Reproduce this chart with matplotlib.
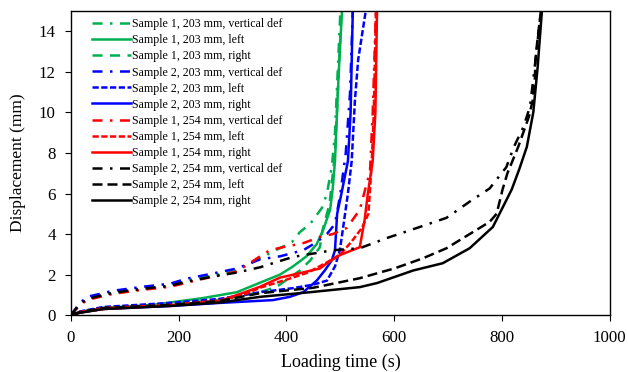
import matplotlib
matplotlib.use("Agg")
import matplotlib.pyplot as plt

plt.rcParams['font.family'] = ['Liberation Serif', 'DejaVu Serif']

# Sample 1, 203 mm
s1_203_vd_t = [0, 15, 30, 78, 134, 184, 215, 263, 308, 351, 369, 410, 425, 444, 466, 475, 484, 490, 495, 500]
s1_203_vd_d = [0, 0.5, 0.8, 1.1, 1.3, 1.45, 1.7, 1.95, 2.2, 2.8, 3.05, 3.6, 4.1, 4.5, 5.3, 6.0, 7.3, 9.0, 12.0, 15.0]
s1_203_l_t = [0, 17, 60, 150, 245, 308, 351, 388, 412, 437, 456, 468, 481, 486, 490, 493, 497, 503]
s1_203_l_d = [0, 0.15, 0.35, 0.5, 0.84, 1.13, 1.6, 2.0, 2.4, 2.9, 3.5, 4.2, 5.2, 6.3, 7.6, 9.5, 12.0, 15.0]
s1_203_r_t = [0, 17, 60, 184, 276, 351, 382, 425, 444, 462, 467, 480, 490, 497, 502]
s1_203_r_d = [0, 0.15, 0.35, 0.55, 0.75, 1.13, 1.4, 2.2, 2.7, 3.35, 4.2, 5.5, 8.0, 12.0, 15.0]

# Sample 2, 203 mm
s2_203_vd_t = [0, 15, 30, 78, 134, 184, 215, 263, 308, 351, 388, 431, 456, 475, 490, 500, 510, 518, 523]
s2_203_vd_d = [0, 0.55, 0.9, 1.2, 1.4, 1.55, 1.8, 2.05, 2.3, 2.75, 2.9, 3.2, 3.6, 4.0, 4.5, 6.0, 8.0, 11.0, 15.0]
s2_203_l_t = [0, 17, 60, 184, 276, 351, 412, 449, 475, 490, 499, 505, 514, 521, 527, 533, 547]
s2_203_l_d = [0, 0.18, 0.4, 0.6, 0.8, 1.13, 1.33, 1.5, 1.7, 2.4, 3.2, 4.3, 6.0, 7.6, 10.6, 12.6, 15.0]
s2_203_r_t = [0, 17, 60, 184, 276, 375, 406, 431, 456, 471, 484, 490, 494, 502, 514, 519, 523]
s2_203_r_d = [0, 0.12, 0.3, 0.45, 0.6, 0.74, 0.9, 1.13, 1.7, 2.2, 2.7, 3.2, 5.0, 6.0, 7.6, 10.0, 15.0]

# Sample 1, 254 mm
s1_254_vd_t = [0, 15, 30, 78, 134, 184, 215, 263, 308, 351, 369, 393, 431, 462, 486, 512, 536, 555, 560, 566]
s1_254_vd_d = [0, 0.45, 0.75, 1.05, 1.25, 1.4, 1.6, 1.9, 2.15, 2.9, 3.2, 3.35, 3.55, 3.85, 4.0, 4.3, 5.2, 7.1, 10.0, 15.0]
s1_254_l_t = [0, 17, 60, 184, 276, 320, 351, 400, 440, 475, 500, 520, 540, 552, 556, 559, 562, 566]
s1_254_l_d = [0, 0.15, 0.35, 0.5, 0.72, 1.0, 1.35, 1.75, 2.1, 2.6, 3.0, 3.6, 4.3, 5.0, 6.6, 8.0, 10.0, 15.0]
s1_254_r_t = [0, 17, 60, 184, 276, 320, 351, 388, 425, 462, 475, 499, 536, 545, 551, 560, 565, 568]
s1_254_r_d = [0, 0.13, 0.3, 0.48, 0.7, 1.1, 1.4, 1.85, 2.07, 2.3, 2.56, 2.96, 3.35, 4.7, 6.0, 7.6, 10.0, 15.0]

# Sample 2, 254 mm
s2_254_vd_t = [0, 15, 30, 78, 134, 184, 215, 263, 308, 351, 412, 486, 536, 586, 642, 697, 740, 777, 808, 822, 840, 852, 864, 872]
s2_254_vd_d = [0, 0.5, 0.8, 1.1, 1.3, 1.45, 1.65, 1.9, 2.1, 2.36, 2.87, 3.2, 3.3, 3.8, 4.3, 4.8, 5.6, 6.25, 7.3, 8.3, 9.3, 10.3, 13.0, 15.0]
s2_254_l_t = [0, 17, 60, 184, 276, 351, 450, 536, 573, 600, 653, 697, 740, 777, 790, 801, 810, 830, 850, 857, 861, 862, 865, 872]
s2_254_l_d = [0, 0.15, 0.35, 0.5, 0.7, 1.08, 1.35, 1.82, 2.1, 2.3, 2.8, 3.3, 4.0, 4.6, 5.0, 6.2, 7.0, 8.3, 9.8, 10.6, 11.7, 12.6, 13.4, 15.0]
s2_254_r_t = [0, 17, 60, 184, 276, 351, 444, 536, 568, 635, 690, 740, 783, 801, 818, 832, 846, 858, 866, 874]
s2_254_r_d = [0, 0.12, 0.3, 0.45, 0.62, 0.9, 1.13, 1.38, 1.58, 2.2, 2.56, 3.3, 4.35, 5.3, 6.2, 7.2, 8.3, 10.0, 12.2, 15.0]

labels = [
    "Sample 1, 203 mm, vertical def", "Sample 1, 203 mm, left", "Sample 1, 203 mm, right",
    "Sample 2, 203 mm, vertical def", "Sample 2, 203 mm, left", "Sample 2, 203 mm, right",
    "Sample 1, 254 mm, vertical def", "Sample 1, 254 mm, left", "Sample 1, 254 mm, right",
    "Sample 2, 254 mm, vertical def", "Sample 2, 254 mm, left", "Sample 2, 254 mm, right",
]
series = [
    (s1_203_vd_t, s1_203_vd_d), (s1_203_l_t, s1_203_l_d), (s1_203_r_t, s1_203_r_d),
    (s2_203_vd_t, s2_203_vd_d), (s2_203_l_t, s2_203_l_d), (s2_203_r_t, s2_203_r_d),
    (s1_254_vd_t, s1_254_vd_d), (s1_254_l_t, s1_254_l_d), (s1_254_r_t, s1_254_r_d),
    (s2_254_vd_t, s2_254_vd_d), (s2_254_l_t, s2_254_l_d), (s2_254_r_t, s2_254_r_d),
]
green, blue, red, black = "#00B050", "#0000FF", "#FF0000", "#000000"
colors = [green] * 3 + [blue] * 3 + [red] * 3 + [black] * 3
dashdot = (0, (4, 3, 1, 3))
styles = [
    dashdot, '-', (0, (4, 3)),
    dashdot, (0, (2.5, 1)), '-',
    dashdot, (0, (2.5, 1)), '-',
    dashdot, (0, (4, 2)), '-',
]

fig = plt.figure(figsize=(6.28, 3.72), dpi=100)
ax = fig.add_axes([0.113, 0.153, 0.858, 0.817])

for (t, d), c, ls, lab in zip(series, colors, styles, labels):
    ax.plot(t, d, color=c, linestyle=ls, linewidth=1.8, label=lab)

ax.set_xlim(0, 1000)
ax.set_ylim(0, 15)
ax.set_xticks([0, 200, 400, 600, 800, 1000])
ax.set_yticks([0, 2, 4, 6, 8, 10, 12, 14])
ax.tick_params(direction='out', length=4, width=0.8, labelsize=12.2)
ax.tick_params(axis='x', pad=7)
ax.tick_params(axis='y', pad=7)
for s in ax.spines.values():
    s.set_linewidth(1.0)
ax.set_xlabel("Loading time (s)", fontsize=13, labelpad=5)
ax.set_ylabel("Displacement (mm)", fontsize=12.5, labelpad=9)

leg = ax.legend(loc='upper left', bbox_to_anchor=(0.025, 1.0), frameon=False,
                fontsize=8.6, handlelength=3.3, handletextpad=0.1,
                labelspacing=0.34, borderaxespad=0.2)

fig.savefig("out.png", dpi=100)
